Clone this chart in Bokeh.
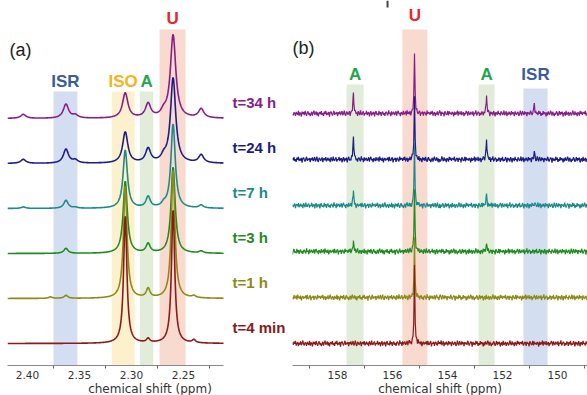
import numpy as np
from bokeh.plotting import figure
from bokeh.layouts import row
from bokeh.models import FixedTicker, PrintfTickFormatter, ColumnDataSource
from bokeh.core.properties import value
from bokeh.embed import file_html
from bokeh.resources import INLINE

# ---------------- data ----------------
TRACES = ["t=4 min", "t=1 h", "t=3 h", "t=7 h", "t=24 h", "t=34 h"]
TRACE_COLORS = ["#8b1a1a", "#8c8a16", "#1f8a1f", "#1a8a8a", "#1c1c86", "#8a1c8a"]

# panel (a): 1H region, peak table (ppm) and heights per trace
A_PEAK_POS = [2.404, 2.378, 2.363, 2.354, 2.306, 2.284, 2.269, 2.260, 2.240, 2.233]
A_HEIGHTS = {
    "t=4 min": [0.0, 0.0, 0.0, 0.0, 127, 4, 0.0, 133, 3, 0.0],
    "t=1 h":   [0.0, 1.5, 3, 0.0, 112, 9, 0.0, 128, 2, 0.0],
    "t=3 h":   [0.0, 0.0, 5, 0.0, 72, 9, 0.0, 86, 0.0, 2],
    "t=7 h":   [1.5, 0.0, 8, 1, 58, 11, 3, 84, 0.0, 3],
    "t=24 h":  [4, 0.0, 14, 3, 31, 14, 5, 85, 0.0, 8],
    "t=34 h":  [4, 0.0, 14, 3, 25, 14, 5, 83, 0.0, 9],
}
A_FWHM = {"t=4 min": 0.0038, "t=1 h": 0.0042, "t=3 h": 0.0048,
          "t=7 h": 0.0050, "t=24 h": 0.0060, "t=34 h": 0.0062}
A_TICKS = [2.40, 2.35, 2.30, 2.25]
A_MINOR = [2.375, 2.325, 2.275, 2.225]
A_BAND_NAMES = ["ISR", "ISO", "A", "U"]
A_BAND_LO = [2.352, 2.297, 2.279, 2.248]
A_BAND_HI = [2.375, 2.319, 2.292, 2.273]
A_BAND_TOP = [274, 274, 274, 336]

# panel (b): 13C region
B_PEAK_POS = [157.42, 155.20, 152.58, 150.84]
B_HEIGHTS = {
    "t=4 min": [0, 76, 0, 0],
    "t=1 h":   [0, 58, 0, 0],
    "t=3 h":   [11, 62, 8, 0],
    "t=7 h":   [15, 62, 12, 2],
    "t=24 h":  [23, 62, 20, 8],
    "t=34 h":  [21, 60, 18, 10],
}
B_TICKS = [158, 156, 154, 152, 150]
B_MINOR = [159, 157, 155, 153, 151, 149]
B_BAND_NAMES = ["A", "U", "A", "ISR"]
B_BAND_LO = [157.05, 154.73, 152.29, 150.36]
B_BAND_HI = [157.67, 155.64, 152.87, 151.24]
B_BAND_TOP = [281, 336, 281, 277]

# baseline noise seen in panel (b) (estimated, px units)
NOISE = [
    0.6, -1.1, 1.4, -0.3, 2.0, -1.6, 0.2, 1.0, -2.1, 0.5, -0.8, 1.7, -1.3, 0.1, 2.3, -0.6, -1.5, 0.9, 0.3, -1.9,
    1.2, -0.2, -1.0, 2.1, -1.6, 0.8, 0.0, -2.3, 1.5, -0.5, 1.1, -1.2, 1.9, -0.1, -1.8, 0.6, 1.7, -0.9, 0.4, -2.0,
    -0.4, 1.3, -1.7, 0.7, 2.2, -0.8, -0.2, 1.6, -1.4, 0.9, -2.2, 0.3, 1.0, -0.6, 1.8, -1.1, 0.2, -1.9, 1.4, -0.3,
    2.0, -1.3, 0.5, -0.7, 1.2, -2.4, 0.8, 1.5, -0.1, -1.6, 0.4, 2.1, -1.0, 0.6, -0.4, 1.1, -2.0, 0.9, -0.5, 1.6,
    -1.2, 0.3, 1.9, -1.5, 0.0, 2.2, -0.9, -1.8, 1.3, 0.7, -1.1, 0.2, 1.6, -2.1, 0.5, 1.0, -0.6, 1.8, -1.4, -0.2,
    1.4, -0.8, 0.6, -2.0, 1.7, 0.1, -1.3, 2.3, -0.5, -1.0, 0.9, 1.5, -1.7, 0.3, -0.3, 2.0, -1.2, 0.4, 1.1, -2.2,
    0.2, 1.8, -1.6, 0.7, -0.6, 1.3, -2.3, 0.5, 1.9, -0.9, 0.0, -1.4, 2.1, -0.7, 1.0, -1.8, 0.6, 1.4, -1.1, 0.3,
    -1.9, 0.9, 1.2, -0.4, -1.5, 2.4, -0.2, 0.7, -2.0, 1.6, -0.8, 0.4, 1.3, -1.2, -0.1, 1.7, -1.6, 0.8, 2.0, -0.6,
    0.5, -2.1, 1.1, 0.2, -1.3, 1.9, -0.7, -0.2, 1.5, -1.7, 2.2, -0.5, 0.8, -1.0, 1.4, -2.3, 0.1, 1.2, -0.9, 0.6,
    -0.3, 1.6, -1.4, 2.0, -0.6, -1.1, 0.9, 1.7, -2.2, 0.4, -0.1, 1.3, -1.8, 0.7, 1.1, -0.8, -1.5, 2.1, -0.4, 0.9,
]
AXIS_TITLE = "chemical shift (ppm)"

# ---------------- layout constants ----------------
A_XR = (2.4192, 2.1452)
A_AXIS_END = 2.2115
B_XR = (159.636, 148.909)
FRAME_H = 365
A_BASE, A_STEP = 22, 45
B_BASE, B_STEP = 22, 46
NOISE_SCALE = 1.3
BOLD = value("Liberation Sans")


def lorentz(x, pos, h, fwhm):
    hw = fwhm / 2.0
    return h / (1.0 + ((x - pos) / hw) ** 2)


def base_fig(fw, xr, mbl):
    p = figure(frame_width=fw, frame_height=FRAME_H, x_range=xr, y_range=(0, FRAME_H),
               y_axis_location=None, output_backend="svg", toolbar_location=None,
               min_border_left=mbl, min_border_right=0, min_border_top=0, min_border_bottom=28)
    p.grid.visible = False
    p.outline_line_color = None
    p.background_fill_color = "white"
    p.border_fill_color = "white"
    ax = p.xaxis[0]
    ax.axis_line_color = "#8a8a8a"
    ax.major_tick_in = 0
    ax.major_tick_out = 0
    ax.minor_tick_in = 0
    ax.minor_tick_out = 3
    ax.minor_tick_line_color = "#666666"
    ax.major_label_text_font = "DejaVu Sans"
    ax.major_label_text_font_size = "10.5px"
    ax.major_label_text_color = "#333333"
    ax.major_label_standoff = 2
    ax.axis_label = AXIS_TITLE
    ax.axis_label_text_font = "DejaVu Sans"
    ax.axis_label_text_font_size = "12px"
    ax.axis_label_text_font_style = "normal"
    ax.axis_label_text_color = "#333333"
    ax.axis_label_standoff = 0
    return p


# ---------------- panel (a) ----------------
pa = base_fig(285, A_XR, 7)
pa.xaxis[0].ticker = FixedTicker(ticks=A_TICKS, minor_ticks=A_MINOR)
pa.xaxis[0].formatter = PrintfTickFormatter(format="%.2f")
pa.xaxis[0].bounds = (A_AXIS_END, A_XR[0])

band_colors = {"ISR": "#d4def1", "ISO": "#fdf0cd", "A": "#e1edd8", "U": "#f9dacf"}
label_colors = {"ISR": "#3b5b9b", "ISO": "#f4b41c", "A": "#1fa64a", "U": "#e8252b"}

pa.quad(left=A_BAND_HI, right=A_BAND_LO, bottom=0, top=A_BAND_TOP,
        fill_color=[band_colors[n] for n in A_BAND_NAMES], line_color=None)

xa = np.linspace(A_AXIS_END, A_XR[0], 700)
for i in reversed(range(len(TRACES))):
    t = TRACES[i]
    y = np.full_like(xa, A_BASE + A_STEP * i, dtype=float)
    for pos, h in zip(A_PEAK_POS, A_HEIGHTS[t]):
        if h:
            y += lorentz(xa, pos, h, A_FWHM[t])
    pa.line(xa, y, line_color=TRACE_COLORS[i], line_width=1.6)

a_lab = ColumnDataSource(dict(
    x=[(lo + hi) / 2 for lo, hi in zip(A_BAND_LO, A_BAND_HI)],
    y=[284 if n != "U" else 347 for n in A_BAND_NAMES],
    text=A_BAND_NAMES,
    color=[label_colors[n] for n in A_BAND_NAMES]))
pa.text(x="x", y="y", text="text", text_color="color", source=a_lab, text_font=BOLD,
        text_font_style="bold", text_font_size="17px", text_align="center", text_baseline="middle")

t_lab = ColumnDataSource(dict(
    x=[2.2029] * len(TRACES),
    y=[A_BASE + A_STEP * i + 16.5 for i in range(len(TRACES))],
    text=TRACES, color=TRACE_COLORS))
pa.text(x="x", y="y", text="text", text_color="color", source=t_lab, text_font=BOLD,
        text_font_style="bold", text_font_size="15px", text_align="left", text_baseline="middle")

pa.text(x=[2.4067], y=[316], text=["(a)"], text_font=BOLD, text_font_size="18px",
        text_color="#222222", text_align="center", text_baseline="middle")

# ---------------- panel (b) ----------------
pb = base_fig(295, B_XR, 0)
pb.xaxis[0].ticker = FixedTicker(ticks=B_TICKS, minor_ticks=B_MINOR)
pb.xaxis[0].formatter = PrintfTickFormatter(format="%d")

pb.quad(left=B_BAND_HI, right=B_BAND_LO, bottom=0, top=B_BAND_TOP,
        fill_color=[band_colors[n] for n in B_BAND_NAMES], line_color=None)

noise_base = np.array(NOISE) * NOISE_SCALE
xg = np.linspace(B_XR[0], B_XR[1], 2 * len(NOISE))
for i in reversed(range(len(TRACES))):
    t = TRACES[i]
    nz_trace = np.concatenate([np.roll(noise_base, 37 * i), np.roll(noise_base, 91 + 23 * i)[::-1]])
    xs = np.concatenate([xg, np.array(B_PEAK_POS)])
    nz = np.concatenate([nz_trace, np.zeros(len(B_PEAK_POS))])
    order = np.argsort(-xs)
    xs, nz = xs[order], nz[order]
    y = B_BASE + B_STEP * i + nz
    for pos, h in zip(B_PEAK_POS, B_HEIGHTS[t]):
        if h:
            y = y + lorentz(xs, pos, h, 0.035)
    pb.line(xs, y, line_color=TRACE_COLORS[i], line_width=1.2)

b_lab = ColumnDataSource(dict(
    x=[(lo + hi) / 2 for lo, hi in zip(B_BAND_LO, B_BAND_HI)],
    y=[291 if n != "U" else 350 for n in B_BAND_NAMES],
    text=B_BAND_NAMES,
    color=[label_colors[n] for n in B_BAND_NAMES]))
pb.text(x="x", y="y", text="text", text_color="color", source=b_lab, text_font=BOLD,
        text_font_style="bold", text_font_size="17px", text_align="center", text_baseline="middle")

pb.text(x=[159.24], y=[318], text=["(b)"], text_font=BOLD, text_font_size="18px",
        text_color="#222222", text_align="center", text_baseline="middle")

# small stray mark at the top edge of the source image
pb.segment(x0=[156.18], y0=[358], x1=[156.18], y1=[365], line_color="#444444", line_width=2)

layout = row(pa, pb, spacing=0)
open("out.html", "w").write(file_html(layout, INLINE))
